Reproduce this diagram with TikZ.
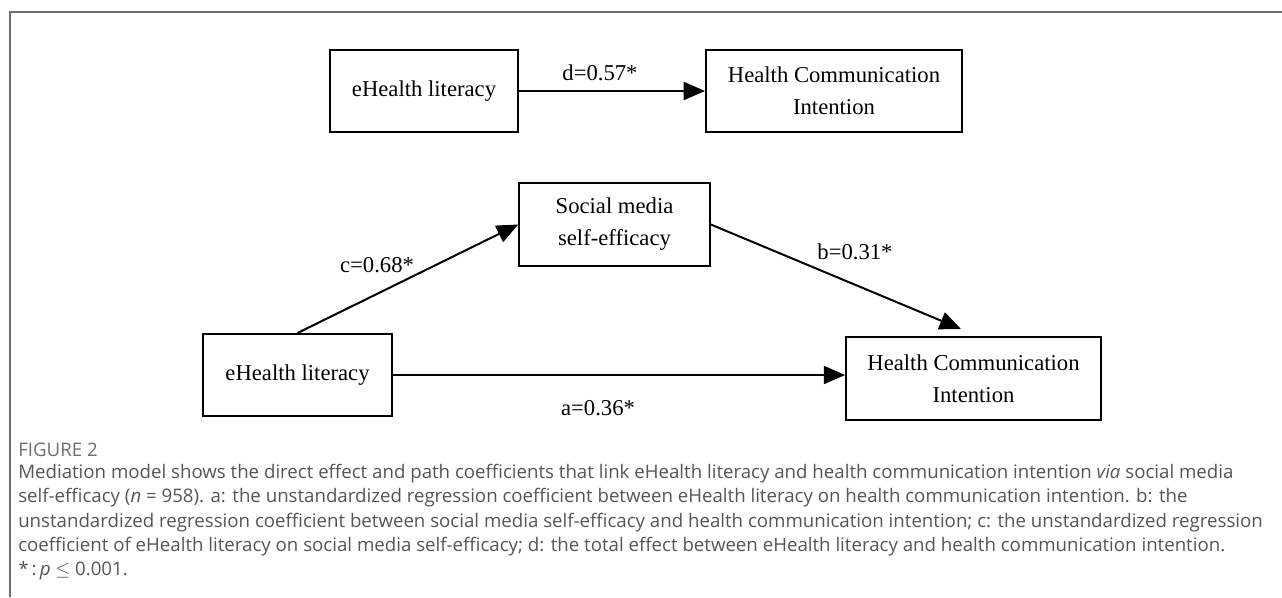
\documentclass[tikz,border=0pt]{standalone}
\usepackage{fontspec}
\setmainfont{Liberation Serif}
\newfontfamily\capfont{Open Sans}
\usepackage{xcolor}
\usetikzlibrary{arrows.meta,positioning}
\definecolor{framegray}{HTML}{6E6E6E}
\definecolor{capgray}{HTML}{555555}

\begin{document}
\begin{tikzpicture}[
    x=0.75pt, y=-0.75pt,
    box/.style={draw=black, line width=1.5pt, minimum height=61.5pt, inner sep=2pt, align=center, font=\fontsize{17}{24}\selectfont},
    lab/.style={inner sep=1pt, font=\fontsize{17}{20}\selectfont},
    arr/.style={-{Triangle[length=16pt,width=13.5pt]}, line width=1.5pt, draw=black}
  ]
    \useasboundingbox (0,0) rectangle (1282,597);
    \draw[framegray, line width=1.1pt] (1282,12) -- (10,12) -- (10,597);
    % total effect
    \node[box, minimum width=141pt] (lit1) at (424,91) {eHealth literacy};
    \node[box, minimum width=192pt] (hci1) at (834,91) {Health Communication\\Intention};
    \draw[arr] (lit1) -- (hci1);
    \node[lab] (d) at (600,73) {d=0.57*};
    % mediation
    \node[box, minimum width=143pt, minimum height=62pt] (med) at (614.5,224.5) {Social media\\self-efficacy};
    \node[box, minimum width=142pt] (lit2) at (297.5,375) {eHealth literacy};
    \node[box, minimum width=191pt, minimum height=62pt] (hci2) at (973.5,378.5) {Health Communication\\Intention};
    \coordinate (btip) at (961,329);
    \draw[arr] (lit2.north) -- (med.west);
    \draw[arr] (med.east) -- (btip);
    \draw[arr] (lit2.east) -- (lit2.east -| hci2.west);
    \node[lab] (c) at (377,265) {c=0.68*};
    \node[lab] (b) at (855,252) {b=0.31*};
    \node[lab] (a) at (598,408) {a=0.36*};
    % caption
    \node[anchor=west, inner sep=0pt, text=framegray, font=\capfont\fontsize{14}{15}\selectfont] (fig) at (18,450) {FIGURE 2};
    \node[anchor=north west, inner sep=0pt, align=left, text=capgray, font=\capfont\fontsize{14}{18.2}\selectfont] (cap) at (18,464) {Mediation model shows the direct effect and path coefficients that link eHealth literacy and health communication intention \textit{via} social media\\
self-efficacy (\textit{n} = 958). a: the unstandardized regression coefficient between eHealth literacy on health communication intention. b: the\\
unstandardized regression coefficient between social media self-efficacy and health communication intention; c: the unstandardized regression\\
coefficient of eHealth literacy on social media self-efficacy; d: the total effect between eHealth literacy and health communication intention.\\
*\,:\,\textit{p} $\leq$ 0.001.};
  \end{tikzpicture}
\end{document}
